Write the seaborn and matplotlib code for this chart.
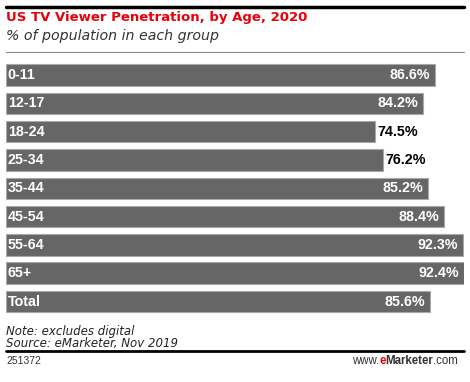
import numpy as np
import pandas as pd
import seaborn as sns
import matplotlib.pyplot as plt
import matplotlib.transforms as mtransforms
from matplotlib.lines import Line2D

# data
groups = ['0-11', '12-17', '18-24', '25-34', '35-44', '45-54', '55-64', '65+', 'Total']
values = [86.6, 84.2, 74.5, 76.2, 85.2, 88.4, 92.3, 92.4, 85.6]
value_labels = ['86.6%', '84.2%', '74.5%', '76.2%', '85.2%', '88.4%', '92.3%', '92.4%', '85.6%']
outside = ['18-24', '25-34']

df = pd.DataFrame({'group': groups, 'pct': values})

sns.set_style('white')
plt.rcParams['font.family'] = ['Liberation Sans', 'DejaVu Sans']

W, H = 470, 382
fig = plt.figure(figsize=(W / 100, H / 100), dpi=100)
fig.patch.set_facecolor('white')

def px(x, y):
    # pixel coordinate (dari atas) -> figure fraction
    return x / W, 1 - y / H

# axes bar
ax_left, ax_right = 6, 464
ax_top, ax_bottom = 60.9, 315.7
ax = fig.add_axes([ax_left / W, 1 - ax_bottom / H, (ax_right - ax_left) / W, (ax_bottom - ax_top) / H])
sns.barplot(data=df, x='pct', y='group', ax=ax, color='#666666', width=0.76,
            edgecolor='#a8a8a8', linewidth=0.8, saturation=1)
ax.set_xlim(0, 92.45)
ax.set_xlabel('')
ax.set_ylabel('')
ax.set_xticks([])
ax.set_yticks([])
for s in ax.spines.values():
    s.set_visible(False)

# label kategori dan nilai
fs = 10.3
left_off = mtransforms.offset_copy(ax.transData, fig=fig, x=1.3, y=0, units='points')
in_off = mtransforms.offset_copy(ax.transData, fig=fig, x=-3.5, y=0, units='points')
out_off = mtransforms.offset_copy(ax.transData, fig=fig, x=1.5, y=0, units='points')
for i, (g, v, lab) in enumerate(zip(groups, values, value_labels)):
    ax.text(0, i, g, transform=left_off, ha='left', va='center', color='white',
            fontsize=fs, fontweight='bold')
    if g in outside:
        ax.text(v, i, lab, transform=out_off, ha='left', va='center', color='black',
                fontsize=fs, fontweight='bold')
    else:
        ax.text(v, i, lab, transform=in_off, ha='right', va='center', color='white',
                fontsize=fs, fontweight='bold')

# garis atas, judul, subjudul
fig.add_artist(Line2D([6 / W, 464 / W], [1 - 6.7 / H, 1 - 6.7 / H], color='black', lw=2.5))
fig.text(*px(6, 21), 'US TV Viewer Penetration, by Age, 2020', color='#e8000b',
         fontsize=9.5, fontweight='bold', family='DejaVu Sans', ha='left', va='baseline')
fig.text(*px(6, 40), '% of population in each group', color='#333333',
         fontsize=10.2, style='italic', family='DejaVu Sans', ha='left', va='baseline')
fig.add_artist(Line2D([6 / W, 464 / W], [1 - 51.7 / H, 1 - 51.7 / H], color='#888888', lw=0.8))

# catatan kaki (satu teks dua baris)
fig.text(*px(6, 325.5), 'Note: excludes digital\nSource: eMarketer, Nov 2019', color='#222222',
         fontsize=8.5, style='italic', family='DejaVu Sans', ha='left', va='top',
         linespacing=0.86)
fig.add_artist(Line2D([6 / W, 464 / W], [1 - 350.8 / H, 1 - 350.8 / H], color='black', lw=2))
fig.text(*px(6, 363.5), '251372', color='#333333', fontsize=7.5, ha='left', va='baseline')

# www.eMarketer.com dengan warna berbeda
fy = 1 - 363.5 / H
t3 = fig.text(458 / W, fy, '.com', color='#333333', fontsize=8.3, ha='right', va='baseline')
fig.canvas.draw()
r = fig.canvas.get_renderer()
bb = t3.get_window_extent(r)
t2 = fig.text(bb.x0 / fig.bbox.width, fy, 'Marketer', color='#333333', fontsize=8.3,
              fontweight='bold', ha='right', va='baseline')
bb = t2.get_window_extent(r)
t1 = fig.text(bb.x0 / fig.bbox.width, fy, 'e', color='#e8000b', fontsize=8.3,
              fontweight='bold', ha='right', va='baseline')
bb = t1.get_window_extent(r)
fig.text(bb.x0 / fig.bbox.width, fy, 'www.', color='#333333', fontsize=8.3,
         ha='right', va='baseline')

fig.savefig('out.png', dpi=100, facecolor='white')
